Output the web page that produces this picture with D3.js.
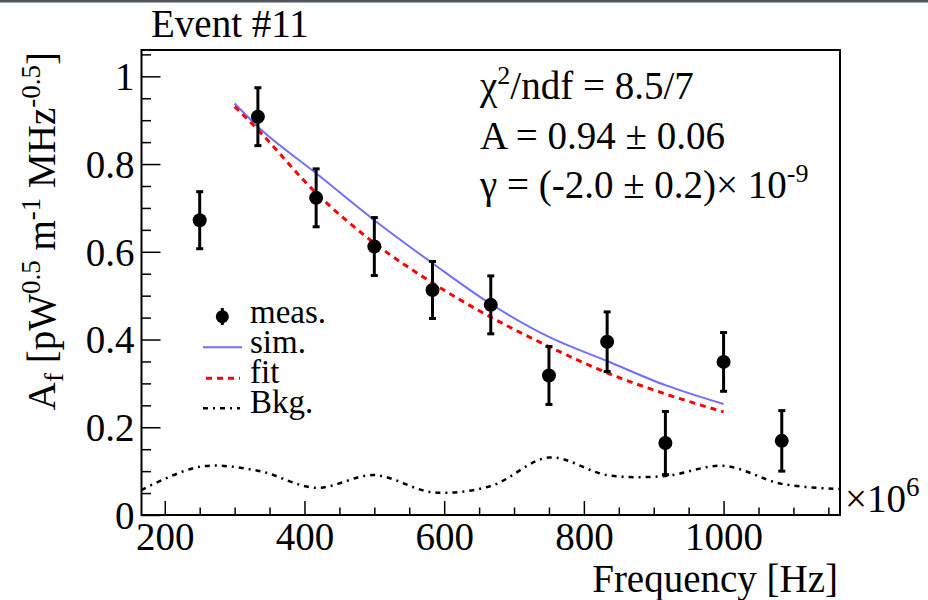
<!DOCTYPE html>
<html>
<head>
<meta charset="utf-8">
<script src="https://cdn.jsdelivr.net/npm/d3@7"></script>
<style>
  body { margin: 0; background: #fff; }
</style>
</head>
<body>
<div id="chart"></div>
<script>
// measured points (frequency in MHz, amplitude, error)
var measFreq = [250, 333.3, 416.7, 500, 583.3, 666.7, 750, 833.3, 916.7, 1000, 1083.3];
var measVal = [0.672, 0.908, 0.723, 0.612, 0.513, 0.479, 0.318, 0.395, 0.164, 0.349, 0.169];
var measErr = [0.065, 0.066, 0.066, 0.066, 0.065, 0.066, 0.066, 0.068, 0.072, 0.067, 0.069];

// simulation curve
var simFreq = [300, 333.3, 416.7, 500, 583.3, 666.7, 750, 833.3, 916.7, 1000];
var simVal = [0.938, 0.885, 0.779, 0.672, 0.574, 0.481, 0.406, 0.351, 0.296, 0.253];

// fit curve
var fitFreq = [300, 333.3, 416.7, 500, 583.3, 666.7, 750, 833.3, 916.7, 1000];
var fitVal = [0.931, 0.878, 0.734, 0.620, 0.529, 0.451, 0.384, 0.324, 0.276, 0.235];

// background
var bkgFreq = [166.7, 250, 333.3, 416.7, 500, 583.3, 666.7, 750, 833.3, 916.7, 1000, 1083.3, 1166.7];
var bkgVal = [0.057, 0.110, 0.101, 0.062, 0.091, 0.052, 0.066, 0.131, 0.091, 0.089, 0.112, 0.071, 0.059];

// axes
var xMajor = [200, 400, 600, 800, 1000];
var xMinor = [250, 300, 350, 450, 500, 550, 650, 700, 750, 850, 900, 950, 1050, 1100, 1150];
var yMajor = [0, 0.2, 0.4, 0.6, 0.8, 1];
var yMinor = [0.05, 0.1, 0.15, 0.25, 0.3, 0.35, 0.45, 0.5, 0.55, 0.65, 0.7, 0.75, 0.85, 0.9, 0.95, 1.05];
var yTickLabels = ["0", "0.2", "0.4", "0.6", "0.8", "1"];

var W = 928, H = 600;
var fs = 39;
var serif = "'Liberation Serif', 'Times New Roman', Times, 'DejaVu Serif', serif";

var svg = d3.select("#chart")
  .append("svg")
  .attr("width", W)
  .attr("height", H)
  .style("font-family", serif);

// grey strip at the very top of the canvas
svg.append("rect")
  .attr("x", 0).attr("y", 0)
  .attr("width", W).attr("height", 2.5)
  .style("fill", "#50565b");

var x = d3.scaleLinear().domain([166.67, 1166.67]).range([141.5, 840]);
var y = d3.scaleLinear().domain([0, 1.06]).range([515, 50]);

// x axis ticks (inside)
var gx = svg.append("g").attr("transform", "translate(0,515)");
gx.call(d3.axisBottom(x).tickValues(xMajor).tickSizeInner(-14).tickSizeOuter(0).tickFormat(d3.format("d")));
gx.attr("font-family", null).attr("font-size", null);
gx.select(".domain").remove();
gx.selectAll(".tick line").style("stroke", "#000").style("stroke-width", 1.5);
gx.selectAll(".tick text")
  .attr("y", 35).attr("dy", 0)
  .style("font-family", serif)
  .style("font-size", fs + "px")
  .style("fill", "#000");

var gxm = svg.append("g").attr("transform", "translate(0,515)");
gxm.call(d3.axisBottom(x).tickValues(xMinor).tickSizeInner(-7.5).tickSizeOuter(0).tickFormat(""));
gxm.select(".domain").remove();
gxm.selectAll(".tick line").style("stroke", "#000").style("stroke-width", 1.5);

// y axis ticks (inside)
var gy = svg.append("g").attr("transform", "translate(141.5,0)");
gy.call(d3.axisLeft(y).tickValues(yMajor).tickSizeInner(-19).tickSizeOuter(0)
  .tickFormat(function(d, i) { return yTickLabels[i]; }));
gy.attr("font-family", null).attr("font-size", null);
gy.select(".domain").remove();
gy.selectAll(".tick line").style("stroke", "#000").style("stroke-width", 1.5);
gy.selectAll(".tick text")
  .attr("x", -7).attr("dy", "0.34em")
  .style("font-family", serif)
  .style("font-size", fs + "px")
  .style("fill", "#000");

var gym = svg.append("g").attr("transform", "translate(141.5,0)");
gym.call(d3.axisLeft(y).tickValues(yMinor).tickSizeInner(-9.5).tickSizeOuter(0).tickFormat(""));
gym.select(".domain").remove();
gym.selectAll(".tick line").style("stroke", "#000").style("stroke-width", 1.5);

// frame
svg.append("rect")
  .attr("x", x.range()[0]).attr("y", y.range()[1])
  .attr("width", x.range()[1] - x.range()[0])
  .attr("height", y.range()[0] - y.range()[1])
  .style("fill", "none")
  .style("stroke", "#000")
  .style("stroke-width", 2);

// background (dash-dot)
var bkgLine = d3.line()
  .x(function(d, i) { return x(bkgFreq[i]); })
  .y(function(d) { return y(d); })
  .curve(d3.curveCatmullRom);
svg.append("path")
  .datum(bkgVal)
  .attr("d", bkgLine)
  .style("fill", "none")
  .style("stroke", "#000")
  .style("stroke-width", 2.5)
  .style("stroke-dasharray", "5,5,2,5");

// simulation
var simLine = d3.line()
  .x(function(d, i) { return x(simFreq[i]); })
  .y(function(d) { return y(d); })
  .curve(d3.curveMonotoneX);
svg.append("path")
  .datum(simVal)
  .attr("d", simLine)
  .style("fill", "none")
  .style("stroke", "#7070ff")
  .style("stroke-width", 2);

// fit
var fitLine = d3.line()
  .x(function(d, i) { return x(fitFreq[i]); })
  .y(function(d) { return y(d); })
  .curve(d3.curveMonotoneX);
svg.append("path")
  .datum(fitVal)
  .attr("d", fitLine)
  .style("fill", "none")
  .style("stroke", "#ff0000")
  .style("stroke-width", 3)
  .style("stroke-dasharray", "6,5");

// measurements with error bars
var pts = svg.selectAll("g.pt")
  .data(measVal)
  .enter().append("g")
  .attr("class", "pt");

pts.append("line")
  .attr("x1", function(d, i) { return x(measFreq[i]); })
  .attr("x2", function(d, i) { return x(measFreq[i]); })
  .attr("y1", function(d, i) { return y(d - measErr[i]); })
  .attr("y2", function(d, i) { return y(d + measErr[i]); })
  .style("stroke", "#000").style("stroke-width", 3);

pts.append("line")
  .attr("x1", function(d, i) { return x(measFreq[i]) - 3.5; })
  .attr("x2", function(d, i) { return x(measFreq[i]) + 3.5; })
  .attr("y1", function(d, i) { return y(d + measErr[i]); })
  .attr("y2", function(d, i) { return y(d + measErr[i]); })
  .style("stroke", "#000").style("stroke-width", 3);

pts.append("line")
  .attr("x1", function(d, i) { return x(measFreq[i]) - 3.5; })
  .attr("x2", function(d, i) { return x(measFreq[i]) + 3.5; })
  .attr("y1", function(d, i) { return y(d - measErr[i]); })
  .attr("y2", function(d, i) { return y(d - measErr[i]); })
  .style("stroke", "#000").style("stroke-width", 3);

pts.append("circle")
  .attr("cx", function(d, i) { return x(measFreq[i]); })
  .attr("cy", function(d) { return y(d); })
  .attr("r", 7)
  .style("fill", "#000");

// legend
var lg = svg.append("g");
var lfs = 33;
lg.append("line").attr("x1", 222.3).attr("x2", 222.3).attr("y1", 308).attr("y2", 325)
  .style("stroke", "#000").style("stroke-width", 3);
lg.append("circle").attr("cx", 222.3).attr("cy", 316.7).attr("r", 6.5).style("fill", "#000");
lg.append("text").attr("x", 250).attr("y", 323.3).style("font-size", lfs + "px").text("meas.");

lg.append("line").attr("x1", 203).attr("x2", 242).attr("y1", 347.3).attr("y2", 347.3)
  .style("stroke", "#7070ff").style("stroke-width", 2);
lg.append("text").attr("x", 250).attr("y", 353.3).style("font-size", lfs + "px").text("sim.");

lg.append("line").attr("x1", 206).attr("x2", 240).attr("y1", 378.3).attr("y2", 378.3)
  .style("stroke", "#ff0000").style("stroke-width", 3).style("stroke-dasharray", "6,5");
lg.append("text").attr("x", 250).attr("y", 383.3).style("font-size", lfs + "px").text("fit");

lg.append("line").attr("x1", 203).attr("x2", 240).attr("y1", 408.3).attr("y2", 408.3)
  .style("stroke", "#000").style("stroke-width", 2.5).style("stroke-dasharray", "5,5,2,5");
lg.append("text").attr("x", 250).attr("y", 413.3).style("font-size", lfs + "px").text("Bkg.");

// fit results
var st1 = svg.append("text").attr("x", 480).attr("y", 99).style("font-size", fs + "px");
st1.append("tspan").text("\u03c7");
st1.append("tspan").attr("dy", -15).style("font-size", "26px").text("2");
st1.append("tspan").attr("dy", 15).text("/ndf = 8.5/7");

svg.append("text").attr("x", 480).attr("y", 149).style("font-size", fs + "px")
  .text("A = 0.94 \u00b1 0.06");

var st3 = svg.append("text").attr("x", 480).attr("y", 198).style("font-size", fs + "px");
st3.append("tspan").text("\u03b3 = (-2.0 \u00b1 0.2)\u00d7 10");
st3.append("tspan").attr("dy", -16).style("font-size", "26px").text("-9");

// title
svg.append("text").attr("x", 151).attr("y", 37.3).style("font-size", fs + "px").text("Event #11");

// x axis title and multiplier
svg.append("text").attr("x", 838).attr("y", 592).style("text-anchor", "end")
  .style("font-size", fs + "px").text("Frequency [Hz]");

var mult = svg.append("text").attr("x", 845).attr("y", 512).style("font-size", fs + "px");
mult.append("tspan").text("\u00d710");
mult.append("tspan").attr("dy", -16).style("font-size", "27px").text("6");

// y axis title
var yt = svg.append("text")
  .attr("transform", "translate(55,52) rotate(-90)")
  .style("text-anchor", "end")
  .style("font-size", fs + "px");
yt.append("tspan").text("A");
yt.append("tspan").attr("dy", 8).style("font-size", "27px").text("f");
yt.append("tspan").attr("dy", -8).text(" [pW");
yt.append("tspan").attr("dy", -15).style("font-size", "27px").text("0.5");
yt.append("tspan").attr("dy", 15).text(" m");
yt.append("tspan").attr("dy", -15).style("font-size", "27px").text("-1");
yt.append("tspan").attr("dy", 15).text(" MHz");
yt.append("tspan").attr("dy", -15).style("font-size", "27px").text("-0.5");
yt.append("tspan").attr("dy", 15).text("]");
</script>
</body>
</html>
